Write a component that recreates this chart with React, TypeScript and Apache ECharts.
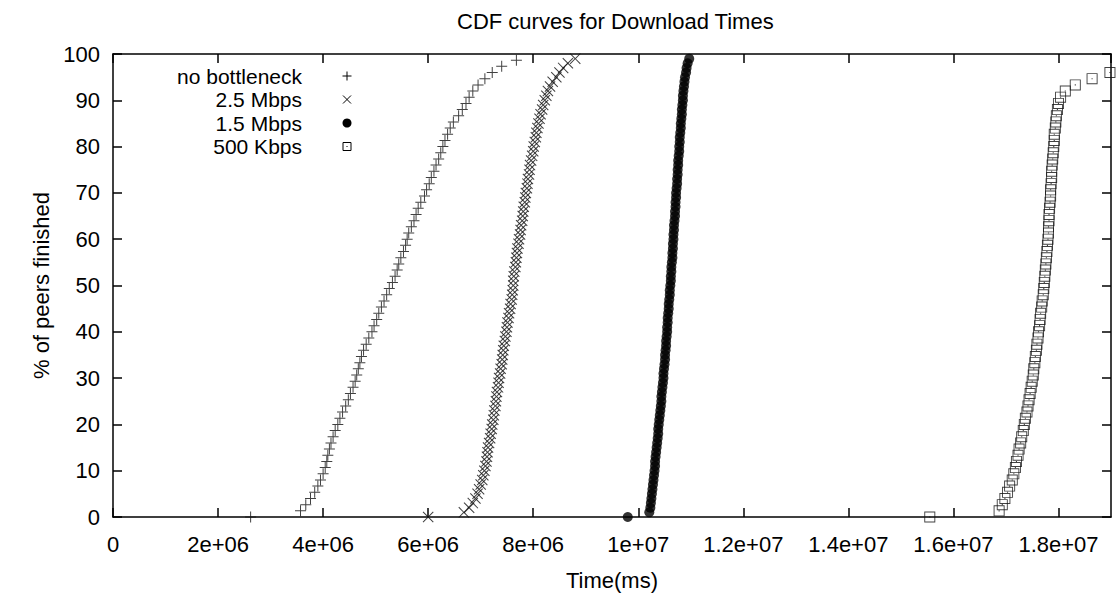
import React, { useEffect, useRef } from "react";
import * as echarts from "echarts";

const FONT = '"Liberation Sans", Arial, Helvetica, sans-serif';

const titleText = "CDF curves for Download Times";
const xAxisName = "Time(ms)";
const yAxisName = "% of peers finished";
const seriesNames = ["no bottleneck", "2.5 Mbps", "1.5 Mbps", "500 Kbps"];

// ---- no bottleneck (+) ----
const noBottleneckPct = [
  0, 1.33, 2.67, 4, 5.33, 6.67, 8, 9.33, 10.67, 12, 13.33, 14.67, 16, 17.33, 18.67, 20, 21.33, 22.67, 24, 25.33,
  26.67, 28, 29.33, 30.67, 32, 33.33, 34.67, 36, 37.33, 38.67, 40, 41.33, 42.67, 44, 45.33, 46.67, 48, 49.33, 50.67,
  52, 53.33, 54.67, 56, 57.33, 58.67, 60, 61.33, 62.67, 64, 65.33, 66.67, 68, 69.33, 70.67, 72, 73.33, 74.67, 76,
  77.33, 78.67, 80, 81.33, 82.67, 84, 85.33, 86.67, 88, 89.33, 90.67, 92, 93.33, 94.67, 96, 97.33, 98.67,
];
const noBottleneckTime = [
  2.62e6, 3.57e6, 3.67e6, 3.76e6, 3.84e6, 3.9e6, 3.95e6, 4.0e6, 4.04e6, 4.07e6, 4.09e6, 4.12e6, 4.15e6, 4.19e6,
  4.23e6, 4.28e6, 4.32e6, 4.37e6, 4.43e6, 4.48e6, 4.52e6, 4.57e6, 4.61e6, 4.64e6, 4.67e6, 4.7e6, 4.73e6, 4.77e6,
  4.82e6, 4.87e6, 4.93e6, 4.97e6, 5.02e6, 5.06e6, 5.11e6, 5.16e6, 5.21e6, 5.26e6, 5.32e6, 5.37e6, 5.41e6, 5.44e6,
  5.48e6, 5.53e6, 5.57e6, 5.6e6, 5.63e6, 5.68e6, 5.73e6, 5.77e6, 5.81e6, 5.86e6, 5.93e6, 5.97e6, 6.02e6, 6.06e6,
  6.11e6, 6.15e6, 6.2e6, 6.24e6, 6.28e6, 6.32e6, 6.37e6, 6.42e6, 6.48e6, 6.58e6, 6.65e6, 6.72e6, 6.78e6, 6.85e6,
  6.95e6, 7.08e6, 7.22e6, 7.4e6, 7.68e6,
];

// ---- 2.5 Mbps (x) ----
const mbps25Pct = [
  0, 1, 2, 3, 4, 5, 6, 7, 8, 9, 10, 11, 12, 13, 14, 15, 16, 17, 18, 19, 20, 21, 22, 23, 24, 25, 26, 27, 28, 29, 30,
  31, 32, 33, 34, 35, 36, 37, 38, 39, 40, 41, 42, 43, 44, 45, 46, 47, 48, 49, 50, 51, 52, 53, 54, 55, 56, 57, 58, 59,
  60, 61, 62, 63, 64, 65, 66, 67, 68, 69, 70, 71, 72, 73, 74, 75, 76, 77, 78, 79, 80, 81, 82, 83, 84, 85, 86, 87, 88,
  89, 90, 91, 92, 93, 94, 95, 96, 97, 98, 99,
];
const mbps25Time = [
  6.0e6, 6.68e6, 6.78e6, 6.85e6, 6.9e6, 6.94e6, 6.97e6, 7.0e6, 7.03e6, 7.05e6, 7.07e6, 7.09e6, 7.11e6, 7.12e6,
  7.13e6, 7.14e6, 7.16e6, 7.18e6, 7.19e6, 7.21e6, 7.22e6, 7.24e6, 7.25e6, 7.26e6, 7.28e6, 7.29e6, 7.3e6, 7.31e6,
  7.33e6, 7.34e6, 7.35e6, 7.37e6, 7.38e6, 7.4e6, 7.41e6, 7.42e6, 7.43e6, 7.44e6, 7.46e6, 7.47e6, 7.49e6, 7.5e6,
  7.51e6, 7.53e6, 7.54e6, 7.56e6, 7.57e6, 7.59e6, 7.6e6, 7.61e6, 7.62e6, 7.62e6, 7.63e6, 7.64e6, 7.66e6, 7.67e6,
  7.68e6, 7.69e6, 7.7e6, 7.72e6, 7.73e6, 7.75e6, 7.76e6, 7.77e6, 7.79e6, 7.8e6, 7.81e6, 7.82e6, 7.84e6, 7.85e6,
  7.86e6, 7.88e6, 7.89e6, 7.9e6, 7.92e6, 7.93e6, 7.94e6, 7.96e6, 7.98e6, 8.0e6, 8.01e6, 8.03e6, 8.05e6, 8.06e6,
  8.08e6, 8.1e6, 8.12e6, 8.14e6, 8.17e6, 8.19e6, 8.22e6, 8.25e6, 8.28e6, 8.32e6, 8.37e6, 8.44e6, 8.5e6, 8.57e6,
  8.66e6, 8.8e6,
];

// ---- 1.5 Mbps (filled circle) ----
const mbps15Pct = [
  0, 1, 2, 3, 4, 5, 6, 7, 8, 9, 10, 11, 12, 13, 14, 15, 16, 17, 18, 19, 20, 21, 22, 23, 24, 25, 26, 27, 28, 29, 30,
  31, 32, 33, 34, 35, 36, 37, 38, 39, 40, 41, 42, 43, 44, 45, 46, 47, 48, 49, 50, 51, 52, 53, 54, 55, 56, 57, 58, 59,
  60, 61, 62, 63, 64, 65, 66, 67, 68, 69, 70, 71, 72, 73, 74, 75, 76, 77, 78, 79, 80, 81, 82, 83, 84, 85, 86, 87, 88,
  89, 90, 91, 92, 93, 94, 95, 96, 97, 98, 99,
];
const mbps15Time = [
  9.8e6, 10.21e6, 10.23e6, 10.24e6, 10.25e6, 10.26e6, 10.27e6, 10.28e6, 10.29e6, 10.3e6, 10.31e6, 10.32e6, 10.32e6,
  10.33e6, 10.34e6, 10.35e6, 10.36e6, 10.37e6, 10.38e6, 10.38e6, 10.39e6, 10.4e6, 10.41e6, 10.42e6, 10.43e6,
  10.44e6, 10.44e6, 10.45e6, 10.46e6, 10.47e6, 10.48e6, 10.48e6, 10.49e6, 10.5e6, 10.51e6, 10.51e6, 10.52e6,
  10.53e6, 10.53e6, 10.54e6, 10.55e6, 10.55e6, 10.56e6, 10.56e6, 10.57e6, 10.58e6, 10.58e6, 10.59e6, 10.6e6,
  10.6e6, 10.61e6, 10.62e6, 10.62e6, 10.63e6, 10.63e6, 10.64e6, 10.65e6, 10.65e6, 10.66e6, 10.66e6, 10.67e6,
  10.67e6, 10.68e6, 10.68e6, 10.69e6, 10.7e6, 10.7e6, 10.71e6, 10.71e6, 10.72e6, 10.72e6, 10.73e6, 10.74e6,
  10.74e6, 10.75e6, 10.75e6, 10.76e6, 10.76e6, 10.77e6, 10.78e6, 10.78e6, 10.79e6, 10.79e6, 10.8e6, 10.81e6,
  10.81e6, 10.82e6, 10.83e6, 10.83e6, 10.84e6, 10.85e6, 10.85e6, 10.86e6, 10.87e6, 10.88e6, 10.89e6, 10.91e6,
  10.92e6, 10.94e6, 10.97e6,
];

// ---- 500 Kbps (open square with dot) ----
const kbps500Pct = [
  0, 1.33, 2.67, 4, 5.33, 6.67, 8, 9.33, 10.67, 12, 13.33, 14.67, 16, 17.33, 18.67, 20, 21.33, 22.67, 24, 25.33,
  26.67, 28, 29.33, 30.67, 32, 33.33, 34.67, 36, 37.33, 38.67, 40, 41.33, 42.67, 44, 45.33, 46.67, 48, 49.33, 50.67,
  52, 53.33, 54.67, 56, 57.33, 58.67, 60, 61.33, 62.67, 64, 65.33, 66.67, 68, 69.33, 70.67, 72, 73.33, 74.67, 76,
  77.33, 78.67, 80, 81.33, 82.67, 84, 85.33, 86.67, 88, 89.33, 90.67, 92, 93.33, 94.67, 96,
];
const kbps500Time = [
  15.55e6, 16.87e6, 16.93e6, 16.98e6, 17.03e6, 17.07e6, 17.12e6, 17.15e6, 17.18e6, 17.2e6, 17.23e6, 17.25e6,
  17.28e6, 17.3e6, 17.33e6, 17.35e6, 17.37e6, 17.4e6, 17.42e6, 17.44e6, 17.46e6, 17.48e6, 17.5e6, 17.52e6,
  17.53e6, 17.55e6, 17.56e6, 17.58e6, 17.59e6, 17.61e6, 17.62e6, 17.64e6, 17.65e6, 17.66e6, 17.68e6, 17.69e6,
  17.71e6, 17.72e6, 17.73e6, 17.74e6, 17.75e6, 17.76e6, 17.77e6, 17.78e6, 17.79e6, 17.8e6, 17.81e6, 17.81e6,
  17.82e6, 17.82e6, 17.83e6, 17.84e6, 17.85e6, 17.85e6, 17.86e6, 17.87e6, 17.87e6, 17.88e6, 17.89e6, 17.9e6,
  17.91e6, 17.92e6, 17.92e6, 17.94e6, 17.95e6, 17.96e6, 17.98e6, 18.0e6, 18.04e6, 18.13e6, 18.32e6, 18.64e6,
  18.98e6,
];

const xTicksMin = 0;
const xTicksMax = 1.9e7;
const xTickStep = 2e6;
const yTicksMin = 0;
const yTicksMax = 100;
const yTickStep = 10;

const PLUS = "path://M5,0h1v5h5v1h-5v5h-1v-5h-5v-1h5z";
const CROSS =
  "path://M0,0.8L0.8,0L6,5.2L11.2,0L12,0.8L6.8,6L12,11.2L11.2,12L6,6.8L0.8,12L0,11.2L5.2,6Z";
const SQUARE = "path://M0,0H12V12H0Z M1,1V11H11V1Z M5.4,5.4H6.6V6.6H5.4Z";

function gFormat(v: number): string {
  if (v === 0) return "0";
  const e = Math.floor(Math.log10(v) + 1e-9);
  const m = +(v / Math.pow(10, e)).toPrecision(6);
  return `${m}e+${String(e).padStart(2, "0")}`;
}

function pairs(xs: number[], ys: number[]) {
  return xs.map((x, i) => [x, ys[i]]);
}

export default function App() {
  const ref = useRef<HTMLDivElement>(null);
  useEffect(() => {
    if (!ref.current) return;
    const chart = echarts.init(ref.current, undefined, { renderer: "svg" });
    const black = "#000";
    const axisLine = { show: true, onZero: false, lineStyle: { color: black, width: 1.5 } };
    const axisTick = { show: true, inside: true, length: 9, lineStyle: { color: black, width: 1.5 } };
    const labelStyle = { fontSize: 22, color: black, fontFamily: FONT };

    const legendX = 302;
    const markX = 347;
    const rowY = [76, 99.5, 123, 146.5];
    const legendGraphics: any[] = [];
    seriesNames.forEach((n, i) => {
      legendGraphics.push({
        type: "text",
        x: legendX,
        y: rowY[i],
        style: {
          text: n,
          fontSize: 21,
          lineHeight: 21,
          fontFamily: FONT,
          fill: black,
          align: "right",
          verticalAlign: "middle",
        },
      });
    });
    const y0 = rowY[0], y1 = rowY[1], y2 = rowY[2], y3 = rowY[3];
    const ls = { stroke: black, lineWidth: 1 };
    legendGraphics.push(
      { type: "line", shape: { x1: markX - 4.5, y1: y0, x2: markX + 4.5, y2: y0 }, style: ls },
      { type: "line", shape: { x1: markX, y1: y0 - 4.5, x2: markX, y2: y0 + 4.5 }, style: ls },
      { type: "line", shape: { x1: markX - 4, y1: y1 - 4, x2: markX + 4, y2: y1 + 4 }, style: ls },
      { type: "line", shape: { x1: markX - 4, y1: y1 + 4, x2: markX + 4, y2: y1 - 4 }, style: ls },
      { type: "circle", shape: { cx: markX, cy: y2, r: 4.5 }, style: { fill: black } },
      { type: "rect", shape: { x: markX - 4, y: y3 - 4, width: 8, height: 8 }, style: { fill: "none", stroke: black, lineWidth: 1 } },
      { type: "rect", shape: { x: markX - 0.5, y: y3 - 0.5, width: 1, height: 1 }, style: { fill: black } }
    );

    const option: any = {
      animation: false,
      backgroundColor: "#fff",
      textStyle: { fontFamily: FONT },
      title: {
        text: titleText,
        left: 452,
        top: 5,
        textStyle: { fontSize: 22, fontWeight: "normal", color: black, fontFamily: FONT },
      },
      grid: { left: 113, right: 6, top: 54, bottom: 72 },
      xAxis: [
        {
          type: "value",
          min: xTicksMin,
          max: xTicksMax,
          interval: xTickStep,
          position: "bottom",
          name: xAxisName,
          nameLocation: "middle",
          nameGap: 52,
          nameTextStyle: labelStyle,
          axisLine,
          axisTick,
          axisLabel: { ...labelStyle, margin: 16, showMaxLabel: false, formatter: (v: number) => gFormat(v) },
          splitLine: { show: false },
        },
        {
          type: "value",
          min: xTicksMin,
          max: xTicksMax,
          interval: xTickStep,
          position: "top",
          axisLine,
          axisTick,
          axisLabel: { show: false },
          splitLine: { show: false },
        },
      ],
      yAxis: [
        {
          type: "value",
          min: yTicksMin,
          max: yTicksMax,
          interval: yTickStep,
          position: "left",
          name: yAxisName,
          nameLocation: "middle",
          nameRotate: 90,
          nameGap: 57,
          nameTextStyle: labelStyle,
          axisLine,
          axisTick,
          axisLabel: { ...labelStyle, margin: 13 },
          splitLine: { show: false },
        },
        {
          type: "value",
          min: yTicksMin,
          max: yTicksMax,
          interval: yTickStep,
          position: "right",
          axisLine,
          axisTick,
          axisLabel: { show: false },
          splitLine: { show: false },
        },
      ],
      graphic: legendGraphics,
      series: [
        {
          name: seriesNames[0],
          type: "scatter",
          xAxisIndex: 0,
          yAxisIndex: 0,
          symbol: PLUS,
          symbolSize: 11,
          itemStyle: { color: "#111" },
          data: pairs(noBottleneckTime, noBottleneckPct),
        },
        {
          name: seriesNames[1],
          type: "scatter",
          xAxisIndex: 0,
          yAxisIndex: 0,
          symbol: CROSS,
          symbolSize: 11,
          itemStyle: { color: "#111" },
          data: pairs(mbps25Time, mbps25Pct),
        },
        {
          name: seriesNames[2],
          type: "scatter",
          xAxisIndex: 0,
          yAxisIndex: 0,
          symbol: "circle",
          symbolSize: 10,
          itemStyle: { color: black },
          data: pairs(mbps15Time, mbps15Pct),
        },
        {
          name: seriesNames[3],
          type: "scatter",
          xAxisIndex: 0,
          yAxisIndex: 0,
          symbol: SQUARE,
          symbolSize: 11,
          itemStyle: { color: "#111" },
          data: pairs(kbps500Time, kbps500Pct),
        },
      ],
    };
    chart.setOption(option);
    return () => chart.dispose();
  }, []);
  return (
    <div
      ref={ref}
      style={{ position: "fixed", left: 0, top: 0, width: "1117px", height: "596px", background: "#fff" }}
    />
  );
}
